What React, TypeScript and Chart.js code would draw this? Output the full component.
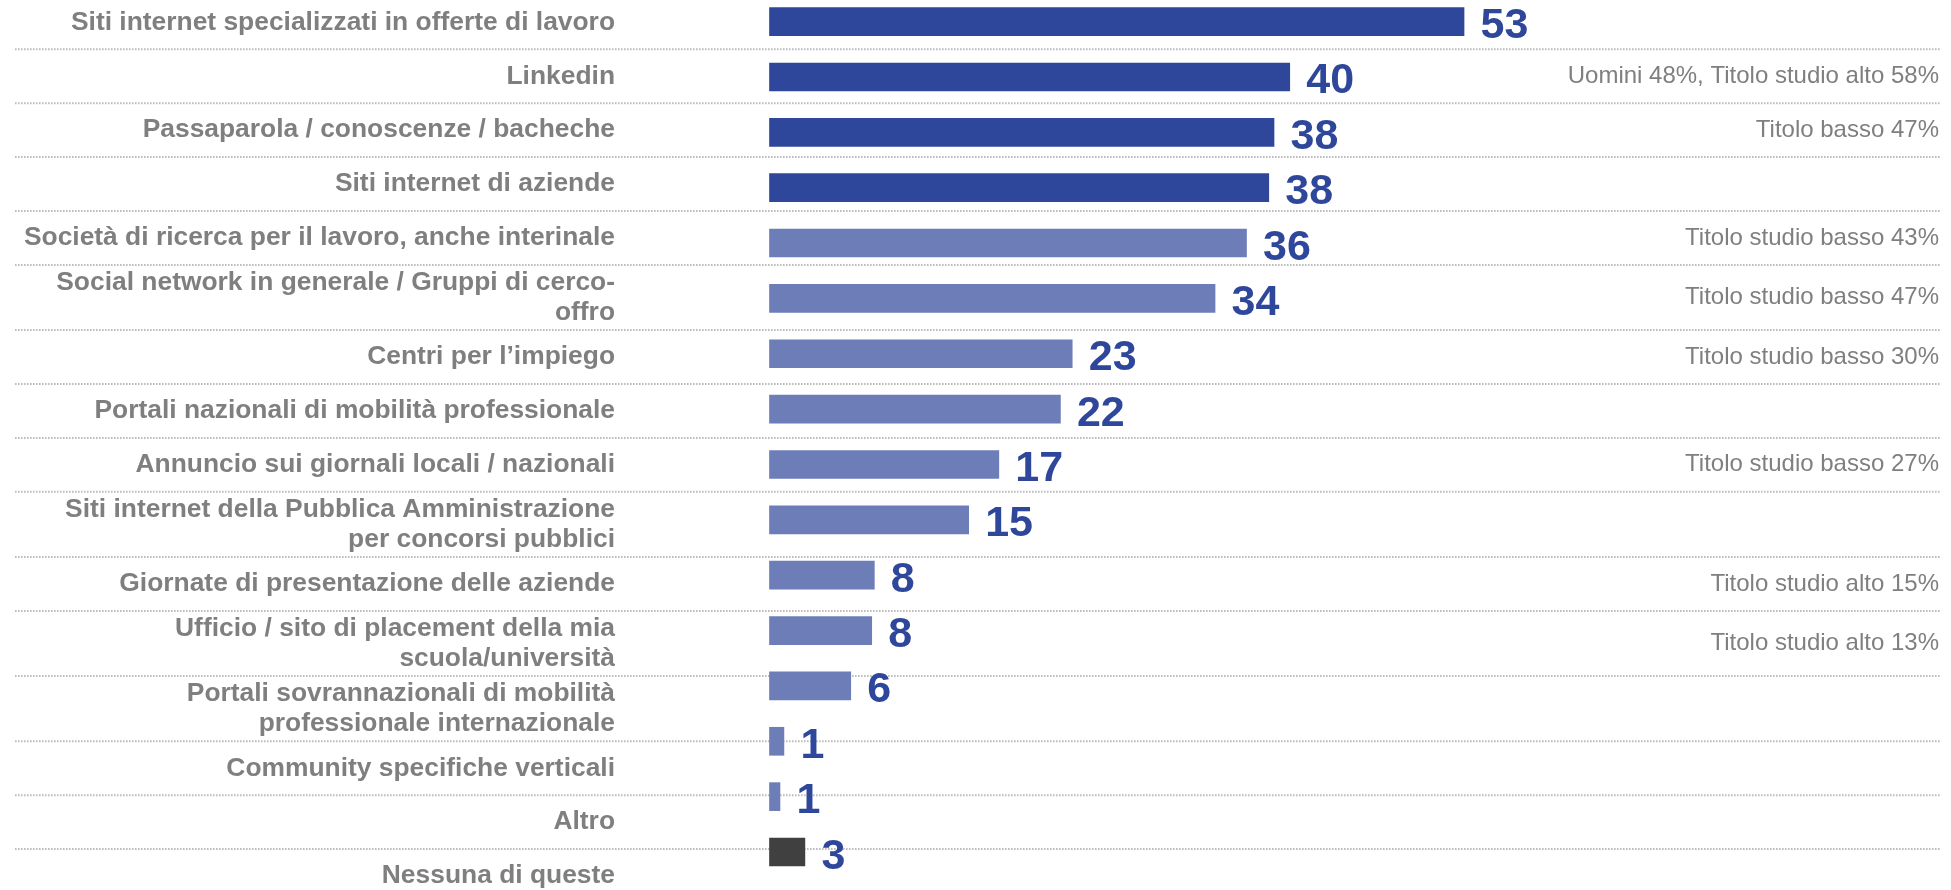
import React, { useEffect, useRef } from "react";
import { Chart, registerables } from "chart.js";

Chart.register(...registerables);

// ---- data ----
const categories: string[][] = [
  ["Siti internet specializzati in offerte di lavoro"],
  ["Linkedin"],
  ["Passaparola / conoscenze / bacheche"],
  ["Siti internet di aziende"],
  ["Società di ricerca per il lavoro, anche interinale"],
  ["Social network in generale / Gruppi di cerco-", "offro"],
  ["Centri per l’impiego"],
  ["Portali nazionali di mobilità professionale"],
  ["Annuncio sui giornali locali / nazionali"],
  ["Siti internet della Pubblica Amministrazione", "per concorsi pubblici"],
  ["Giornate di presentazione delle aziende"],
  ["Ufficio / sito di placement della mia", "scuola/università"],
  ["Portali sovrannazionali di mobilità", "professionale internazionale"],
  ["Community specifiche verticali"],
  ["Altro"],
  ["Nessuna di queste"],
];

const values = [53, 39.7, 38.5, 38.1, 36.4, 34.0, 23.1, 22.2, 17.5, 15.2, 8.0, 7.8, 6.2, 1.1, 0.8, 2.7];

const valueLabels = ["53", "40", "38", "38", "36", "34", "23", "22", "17", "15", "8", "8", "6", "1", "1", "3"];

const notes = [
  "",
  "Uomini 48%, Titolo studio alto 58%",
  "Titolo basso 47%",
  "",
  "Titolo studio basso 43%",
  "Titolo studio basso 47%",
  "Titolo studio basso 30%",
  "",
  "Titolo studio basso 27%",
  "",
  "Titolo studio alto 15%",
  "Titolo studio alto 13%",
  "",
  "",
  "",
  "",
];

const groups = ["top", "top", "top", "top", "other", "other", "other", "other", "other", "other", "other", "other", "other", "other", "other", "none"];

// ---- styles ----
const GROUP_COLORS: Record<string, string> = {
  top: "#2F479B",
  other: "#6D7DB8",
  none: "#404040",
};
const VALUE_COLOR = "#2F479B";
const TEXT_GRAY = "#7F7F7F";
const FONT = "'Liberation Sans', Arial, Helvetica, sans-serif";

const TABLE_TOP = -4.6;
const ROW_H1 = 53.9;
const ROW_H2 = 65.2;
const LINE_H = 30;
const LABEL_RIGHT = 615;
const NOTE_RIGHT = 1939;
const RULE_LEFT = 15;
const RULE_RIGHT = 1940;

const tablePlugin = {
  id: "labelTable",
  beforeDatasetsDraw(chart: any) {
    const ctx = chart.ctx as CanvasRenderingContext2D;
    ctx.save();
    let y = TABLE_TOP;
    categories.forEach((lines, i) => {
      const h = lines.length > 1 ? ROW_H2 : ROW_H1;
      const cy = y + h / 2;
      ctx.textAlign = "right";
      ctx.textBaseline = "middle";
      ctx.fillStyle = TEXT_GRAY;
      ctx.font = `bold 26.4px ${FONT}`;
      lines.forEach((t, k) => {
        ctx.fillText(t, LABEL_RIGHT, cy + (k - (lines.length - 1) / 2) * LINE_H);
      });
      if (notes[i]) {
        ctx.font = `24px ${FONT}`;
        ctx.fillText(notes[i], NOTE_RIGHT, cy);
      }
      y += h;
      if (i < categories.length - 1) {
        ctx.beginPath();
        ctx.setLineDash([1.6, 1.4]);
        ctx.lineWidth = 2;
        ctx.strokeStyle = "#BDBDBD";
        ctx.moveTo(RULE_LEFT, y);
        ctx.lineTo(RULE_RIGHT, y);
        ctx.stroke();
        ctx.setLineDash([]);
      }
    });
    ctx.restore();
  },
};

const valuePlugin = {
  id: "valueLabels",
  afterDatasetsDraw(chart: any) {
    const ctx = chart.ctx as CanvasRenderingContext2D;
    const meta = chart.getDatasetMeta(0);
    ctx.save();
    ctx.font = `bold 43px ${FONT}`;
    ctx.fillStyle = VALUE_COLOR;
    ctx.textAlign = "left";
    ctx.textBaseline = "alphabetic";
    meta.data.forEach((bar: any, i: number) => {
      ctx.fillText(valueLabels[i], bar.x + 16.5, bar.y + 16.5);
    });
    ctx.restore();
  },
};

export default function App() {
  const canvasRef = useRef<HTMLCanvasElement | null>(null);

  useEffect(() => {
    if (!canvasRef.current) return;
    const chart = new Chart(canvasRef.current, {
      type: "bar",
      data: {
        labels: categories.map((c) => c.join(" ")),
        datasets: [
          {
            data: values,
            backgroundColor: groups.map((g) => GROUP_COLORS[g]),
            barThickness: 28,
            borderWidth: 0,
            clip: false as any,
          },
        ],
      },
      options: {
        indexAxis: "y",
        animation: false,
        responsive: true,
        maintainAspectRatio: false,
        layout: { padding: { left: 769.5, right: 2.1, top: 21.6, bottom: 38 } },
        scales: {
          x: { display: false, min: 0, max: 90 },
          y: { display: false, offset: false },
        },
        plugins: {
          legend: { display: false },
          tooltip: { enabled: false },
        },
      },
      plugins: [tablePlugin, valuePlugin],
    });
    return () => chart.destroy();
  }, []);

  return (
    <div style={{ position: "absolute", left: 0, top: 0, width: 1951, height: 890, background: "#fff" }}>
      <canvas ref={canvasRef} />
    </div>
  );
}
